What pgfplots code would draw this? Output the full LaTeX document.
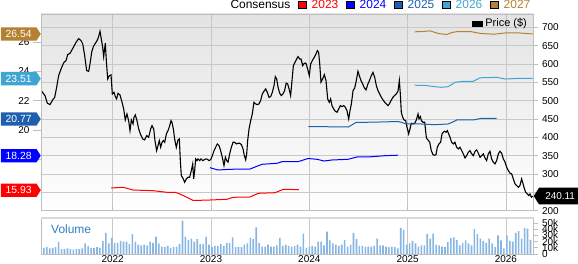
\documentclass[border=0pt]{standalone}
\usepackage{fontspec}
\setmainfont{Liberation Sans}
\usepackage{pgfplots}
\pgfplotsset{compat=1.18}
\usetikzlibrary{shapes.symbols}
\definecolor{c23}{RGB}{255,0,0}
\definecolor{c24}{RGB}{0,0,255}
\definecolor{c25}{RGB}{30,95,175}
\definecolor{c26}{RGB}{65,165,210}
\definecolor{c27}{RGB}{180,128,50}
\definecolor{gridc}{RGB}{200,200,200}
\definecolor{framec}{RGB}{190,190,190}
\definecolor{volc}{RGB}{135,182,226}
\definecolor{voltext}{RGB}{50,125,195}
\tikzset{badge/.style={shape=signal, signal to=east, signal pointer angle=115, fill=#1, text=white,
    font=\fontsize{10.4}{12}\selectfont, minimum width=40bp, minimum height=13.3bp,
    inner sep=1bp, anchor=east}}
\begin{document}
\begin{tikzpicture}
\useasboundingbox (0bp,0bp) rectangle (578bp,264bp);
\pgfplotsset{
  base/.style={
    scale only axis, width=492.5bp, xmin=2021.2706, xmax=2026.2808,
    /pgf/number format/assume math mode=true,
    tick label style={font=\fontsize{10}{12}\selectfont, black},
    axis line style={framec, line width=0.8bp},
    tick style={framec, line width=0.8bp},
    clip=true,
  },
}
% ---------------- price axis (right) ----------------
\begin{axis}[base, at={(41bp,53.2bp)}, anchor=south west, height=196.8bp,
  ymin=200, ymax=736.2,
  ytick={200,250,...,700}, yticklabels={200,{},300,350,400,450,500,550,600,650,700},
  yticklabel pos=right, ytick pos=right,
  ytick align=outside, major tick length=5bp,
  xtick={2022,2023,2024,2025,2026}, xticklabels={}, xtick align=inside,
  xmajorgrids, ymajorgrids, grid style={gridc, line width=0.8bp},
  axis background/.style={shade, top color=black!11, middle color=white, bottom color=white},
  legend style={draw=none, fill=none, at={(1,1)}, anchor=north east, xshift=-5bp, yshift=-3bp,
    font=\fontsize{11}{13}\selectfont, inner sep=0pt, nodes={inner sep=1.5bp},
    /tikz/every odd column/.append style={column sep=2bp}},
  legend image code/.code={\fill[#1] (0bp,-2.3bp) rectangle (9.3bp,2.3bp);},
]
\addlegendimage{fill=black}
\addlegendentry{Price (\$)}
\addplot[black, line width=1.1bp, forget plot] coordinates {
(2021.278,525.7) (2021.311,513.9) (2021.335,493) (2021.362,489.3) (2021.389,502) (2021.410,509.3)
(2021.430,536.6) (2021.450,568.3) (2021.481,591) (2021.505,604.7) (2021.525,609.2) (2021.542,625.5)
(2021.566,629.2) (2021.600,645.5) (2021.627,659.1) (2021.654,669.1) (2021.678,663.7) (2021.695,654.6)
(2021.715,622.8) (2021.735,582) (2021.756,580.1) (2021.769,600.1) (2021.786,631.9) (2021.803,647.3)
(2021.823,656.4) (2021.837,661.9) (2021.847,667.3) (2021.857,674.6) (2021.871,689.1) (2021.884,668.2)
(2021.898,645.5) (2021.908,620.1) (2021.925,656.4) (2021.935,609.2) (2021.949,559.3) (2021.966,568.3)
(2021.983,570.2) (2021.996,518.4) (2022.013,522.9) (2022.027,511.1) (2022.040,504.8) (2022.054,520.2)
(2022.074,515.7) (2022.095,495.7) (2022.112,477.5) (2022.128,447.6) (2022.145,463.9) (2022.162,445.8)
(2022.176,418.5) (2022.190,447.6) (2022.207,436.7) (2022.217,454.8) (2022.230,461.2) (2022.247,445.8)
(2022.264,423.1) (2022.281,409.4) (2022.305,395.8) (2022.325,393.1) (2022.346,404.9) (2022.366,400.4)
(2022.386,423.1) (2022.400,432.1) (2022.417,423.1) (2022.430,391.3) (2022.447,364) (2022.461,377.7)
(2022.474,391.3) (2022.488,373.1) (2022.502,386.7) (2022.515,391.3) (2022.529,386.7) (2022.546,409.4)
(2022.563,418.5) (2022.580,432.1) (2022.593,445.8) (2022.603,441.2) (2022.617,423.1) (2022.630,395.8)
(2022.647,373.1) (2022.664,393.1) (2022.678,395.8) (2022.688,336.8) (2022.698,295.9) (2022.715,288.7)
(2022.732,277.8) (2022.749,286.9) (2022.766,291.4) (2022.783,291.4) (2022.800,309.6) (2022.814,327.7)
(2022.824,286.9) (2022.834,309.6) (2022.844,341.3) (2022.858,336.8) (2022.868,341.3) (2022.885,336.8)
(2022.898,341.3) (2022.915,336.8) (2022.929,338.6) (2022.946,341.3) (2022.963,340.4) (2022.980,336.8)
(2022.997,339.5) (2023.014,350.4) (2023.031,364) (2023.047,373.1) (2023.064,382.2) (2023.081,377.7)
(2023.098,364) (2023.115,345.9) (2023.132,323.2) (2023.146,345.9) (2023.159,336.8) (2023.173,332.3)
(2023.190,355) (2023.207,373.1) (2023.224,386.7) (2023.241,386.7) (2023.258,382.2) (2023.275,384)
(2023.292,384) (2023.309,380.4) (2023.326,368.6) (2023.339,350.4) (2023.353,338.6) (2023.363,355)
(2023.373,391.3) (2023.387,423.1) (2023.404,445.8) (2023.420,463.9) (2023.437,495.7) (2023.454,491.2)
(2023.471,489.3) (2023.488,491.2) (2023.505,500.2) (2023.522,518.4) (2023.539,525.7) (2023.556,532)
(2023.573,522.9) (2023.590,509.3) (2023.607,511.1) (2023.624,522.9) (2023.641,541.1) (2023.654,565.6)
(2023.668,559.3) (2023.682,536.6) (2023.699,520.2) (2023.715,513.9) (2023.732,518.4) (2023.749,527.5)
(2023.765,548) (2023.780,545.6) (2023.797,529.3) (2023.810,513.9) (2023.824,554.7) (2023.838,595.6)
(2023.855,604.7) (2023.872,613.7) (2023.885,620.1) (2023.902,613.7) (2023.916,613.7) (2023.933,595.6)
(2023.949,601.9) (2023.966,601.9) (2023.983,586.5) (2024.000,568.3) (2024.014,600.1) (2024.034,611)
(2024.051,618.3) (2024.068,627.4) (2024.082,636.4) (2024.095,631.9) (2024.106,600.1) (2024.119,550.2)
(2024.136,559.3) (2024.153,571.1) (2024.170,554.7) (2024.187,504.8) (2024.204,495.7) (2024.217,504.8)
(2024.231,486.6) (2024.248,477.5) (2024.265,471.2) (2024.282,468.5) (2024.299,477.5) (2024.316,486.6)
(2024.333,483.9) (2024.350,486.6) (2024.366,482.1) (2024.383,473) (2024.401,450.3) (2024.414,473)
(2024.428,491.2) (2024.445,527.5) (2024.462,534.7) (2024.478,554.7) (2024.495,580.1) (2024.509,568.3)
(2024.526,554.7) (2024.543,545.6) (2024.560,534.7) (2024.577,529.3) (2024.595,544.7) (2024.612,554.7)
(2024.631,568.3) (2024.648,577.4) (2024.665,563.8) (2024.682,541.1) (2024.699,527.5) (2024.716,518.4)
(2024.733,509.3) (2024.750,502) (2024.767,495.7) (2024.784,491.2) (2024.801,486.6) (2024.818,493)
(2024.835,502) (2024.851,509.3) (2024.868,513.9) (2024.885,518.4) (2024.902,525.7) (2024.916,554.7)
(2024.926,518.4) (2024.936,468.5) (2024.950,454.8) (2024.963,447.6) (2024.980,445.8) (2024.994,427.6)
(2025.011,409.4) (2025.024,423.1) (2025.038,438.5) (2025.055,436.7) (2025.072,438.5) (2025.089,447.6)
(2025.106,463.9) (2025.116,450.3) (2025.130,456.7) (2025.140,445.8) (2025.157,441.2) (2025.174,441.2)
(2025.191,398.5) (2025.207,393.1) (2025.225,386.7) (2025.241,364) (2025.258,353.1) (2025.275,351.3)
(2025.289,353.1) (2025.302,373.1) (2025.319,382.2) (2025.336,386.7) (2025.350,409.4) (2025.363,414)
(2025.377,416.7) (2025.391,414) (2025.404,418.5) (2025.418,409.4) (2025.432,400) (2025.448,386.7)
(2025.465,382.2) (2025.482,386.7) (2025.499,373.1) (2025.516,368.6) (2025.533,373.1) (2025.550,364)
(2025.567,355) (2025.584,344.1) (2025.601,350.4) (2025.618,359.5) (2025.635,364) (2025.652,355)
(2025.669,350.4) (2025.686,362.2) (2025.703,365.9) (2025.720,356.8) (2025.737,345.9) (2025.754,350.4)
(2025.770,355) (2025.787,344.1) (2025.804,336.8) (2025.821,355) (2025.838,362.2) (2025.855,341.3)
(2025.872,332.3) (2025.889,327.7) (2025.906,336.8) (2025.923,355) (2025.940,362.2) (2025.957,356.8)
(2025.974,341.3) (2025.991,332.3) (2026.008,318.6) (2026.025,309.6) (2026.042,302.3) (2026.059,300.5)
(2026.076,286.9) (2026.093,273.2) (2026.110,268.7) (2026.126,264.2) (2026.143,268.7) (2026.160,286.9)
(2026.170,277.8) (2026.184,264.2) (2026.201,250.5) (2026.218,246) (2026.232,241.5) (2026.245,246)
(2026.259,236.9) (2026.272,240.11)
};
\end{axis}
% ---------------- consensus EPS axis (left) ----------------
\begin{axis}[base, at={(41bp,53.2bp)}, anchor=south west, height=196.8bp,
  ymin=14.537, ymax=27.898, axis x line=none, axis y line*=left,
  ytick={16,18,20,22,24,26}, yticklabels={{},{},20,22,24,26}, tick align=outside, major tick length=8bp,
  legend columns=6,
  legend style={draw=none, fill=none, at={(1,1)}, anchor=south east, xshift=-2bp, yshift=3bp,
    font=\fontsize{12}{14}\selectfont, inner sep=0pt, nodes={inner sep=1bp},
    /tikz/every odd column/.append style={column sep=4.8bp},
    /tikz/every even column/.append style={column sep=6.5bp}},
  legend image code/.code={\fill[#1] (0bp,-3.7bp) rectangle (7.7bp,3.7bp);},
]
\addlegendimage{empty legend}\addlegendentry{Consensus}
\addlegendimage{fill=c23}\addlegendentry{\textcolor{c23}{2023}}
\addlegendimage{fill=c24}\addlegendentry{\textcolor{c24}{2024}}
\addlegendimage{fill=c25}\addlegendentry{\textcolor{c25}{2025}}
\addlegendimage{fill=c26}\addlegendentry{\textcolor{c26}{2026}}
\addlegendimage{fill=c27}\addlegendentry{\textcolor{c27}{2027}}
\addplot[c23, line width=1bp, forget plot] coordinates {
(2021.983,16.085) (2022.105,16.133) (2022.207,15.949) (2022.410,15.902) (2022.552,15.793) (2022.634,15.793)
(2022.685,15.678) (2022.820,15.237) (2022.990,15.27) (2023.160,15.318) (2023.227,15.454) (2023.397,15.474)
(2023.481,15.725) (2023.651,15.766) (2023.736,15.997) (2023.895,15.97)
};
\addplot[c24, line width=1bp, forget plot] coordinates {
(2022.990,17.463) (2023.071,17.307) (2023.193,17.355) (2023.397,17.375) (2023.519,17.694) (2023.671,17.762)
(2023.722,17.871) (2023.885,17.871) (2023.987,18.088) (2024.078,18.034) (2024.150,17.918) (2024.231,17.986)
(2024.394,18.034) (2024.485,18.19) (2024.618,18.203) (2024.770,18.278) (2024.902,18.312)
};
\addplot[c25, line width=1bp, forget plot] coordinates {
(2023.990,20.26) (2024.397,20.226) (2024.475,20.532) (2024.719,20.566) (2024.902,20.6) (2024.936,20.545)
(2024.987,20.43) (2025.139,20.43) (2025.276,20.383) (2025.411,20.43) (2025.452,20.545) (2025.499,20.702)
(2025.668,20.702) (2025.753,20.817) (2025.906,20.817)
};
\addplot[c26, line width=1bp, forget plot] coordinates {
(2025.072,23.064) (2025.190,23.044) (2025.258,22.976) (2025.343,22.922) (2025.411,22.962) (2025.452,23.125)
(2025.482,23.261) (2025.567,23.329) (2025.668,23.329) (2025.736,23.566) (2025.906,23.6) (2025.991,23.485)
(2026.110,23.519) (2026.273,23.527)
};
\addplot[c27, line width=1bp, forget plot] coordinates {
(2025.072,26.689) (2025.160,26.71) (2025.228,26.757) (2025.312,26.574) (2025.398,26.506) (2025.452,26.642)
(2025.499,26.696) (2025.634,26.71) (2025.747,26.574) (2025.879,26.526) (2026.008,26.621) (2026.143,26.608)
(2026.273,26.54)
};
\end{axis}
% ---------------- volume axis ----------------
\begin{axis}[base, at={(41bp,10bp)}, anchor=south west, height=35bp,
  ymin=0, ymax=56.5,
  ytick={0,10,20,30,40,50}, yticklabels={0,10k,20k,30k,40k,50k},
  yticklabel pos=right, ytick pos=right, ytick align=outside, major tick length=5bp,
  xtick={2022,2023,2024,2025,2026}, xticklabels={2022,2023,2024,2025,2026}, xtick align=inside,
  xticklabel style={inner sep=0pt, yshift=-1.5bp},
  xmajorgrids, grid style={gridc, line width=0.8bp},
  axis x line*=bottom, axis y line*=right,
]
\addplot[ybar, bar width=1.6bp, fill=volc, draw=none] table {
x y
2021.30 10
2021.33 11
2021.36 9
2021.39 10
2021.42 11
2021.45 19
2021.48 8
2021.51 8
2021.54 9
2021.57 8
2021.60 7
2021.63 8
2021.66 8
2021.69 9
2021.72 17
2021.75 13
2021.78 10
2021.81 10
2021.84 11
2021.87 10
2021.90 21
2021.93 34
2021.96 17
2021.99 26
2022.02 18
2022.05 18
2022.08 21
2022.11 20
2022.14 20
2022.17 16
2022.20 32
2022.23 20
2022.26 15
2022.29 14
2022.32 15
2022.35 14
2022.38 20
2022.41 18
2022.44 28
2022.47 17
2022.50 12
2022.53 11
2022.56 13
2022.59 10
2022.62 11
2022.65 12
2022.68 16
2022.71 54
2022.74 28
2022.77 23
2022.80 25
2022.83 20
2022.86 24
2022.89 16
2022.92 16
2022.95 28
2022.98 15
2023.01 11
2023.04 13
2023.07 13
2023.10 16
2023.13 13
2023.16 18
2023.19 18
2023.22 27
2023.25 11
2023.28 11
2023.31 11
2023.34 15
2023.37 17
2023.40 26
2023.43 24
2023.46 43
2023.49 18
2023.52 12
2023.55 12
2023.58 15
2023.61 12
2023.64 12
2023.67 14
2023.70 26
2023.73 13
2023.76 15
2023.79 13
2023.82 12
2023.85 13
2023.88 15
2023.91 12
2023.94 33
2023.97 10
2024.00 11
2024.03 13
2024.06 12
2024.09 20
2024.12 20
2024.15 14
2024.18 36
2024.21 22
2024.24 17
2024.27 15
2024.30 13
2024.33 15
2024.36 23
2024.39 12
2024.42 15
2024.45 34
2024.48 24
2024.51 13
2024.54 13
2024.57 12
2024.60 12
2024.63 12
2024.66 13
2024.69 25
2024.72 14
2024.75 14
2024.78 12
2024.81 11
2024.84 12
2024.87 11
2024.90 9
2024.93 42
2024.96 39
2024.99 15
2025.02 17
2025.05 21
2025.08 17
2025.11 12
2025.14 14
2025.17 14
2025.20 32
2025.23 25
2025.26 33
2025.29 15
2025.32 14
2025.35 12
2025.38 11
2025.41 19
2025.44 26
2025.47 27
2025.50 23
2025.53 14
2025.56 18
2025.59 22
2025.62 17
2025.65 14
2025.68 40
2025.71 32
2025.74 25
2025.77 21
2025.80 18
2025.83 25
2025.86 17
2025.89 11
2025.92 30
2025.95 22
2025.98 9
2026.01 30
2026.04 21
2026.07 20
2026.10 34
2026.13 37
2026.16 25
2026.19 42
2026.22 41
2026.25 23
};
\node[anchor=west, text=voltext, font=\fontsize{12}{14}\selectfont, inner sep=0pt] at (rel axis cs:0.0203,0.714) {Volume};
\draw[framec, line width=0.8bp] (rel axis cs:0,0) -- (rel axis cs:0,1);
\end{axis}
\fill[black!15] (41bp,45bp) rectangle (533.5bp,47.3bp);
% ---------------- overlay: EPS badges ----------------
\begin{axis}[base, at={(41bp,53.2bp)}, anchor=south west, height=196.8bp,
  ymin=14.537, ymax=27.898, hide axis, clip=false]
\node[badge=c27] at (axis cs:2021.2706,26.54) {26.54};
\node[badge=c26] at (axis cs:2021.2706,23.51) {23.51};
\node[badge=c25] at (axis cs:2021.2706,20.77) {20.77};
\node[badge=c24] at (axis cs:2021.2706,18.28) {18.28};
\node[badge=c23] at (axis cs:2021.2706,15.93) {15.93};
\end{axis}
% ---------------- overlay: price badge ----------------
\begin{axis}[base, at={(41bp,53.2bp)}, anchor=south west, height=196.8bp,
  ymin=200, ymax=736.2, hide axis, clip=false]
\node[shape=signal, signal to=west, signal pointer angle=115, fill=black, text=white,
  font=\fontsize{10}{12}\selectfont, minimum width=44.5bp, minimum height=16.7bp,
  inner sep=1bp, anchor=west] at (axis cs:2026.2808,240.11) {\hspace{3bp}240.11};
\end{axis}
\end{tikzpicture}
\end{document}
